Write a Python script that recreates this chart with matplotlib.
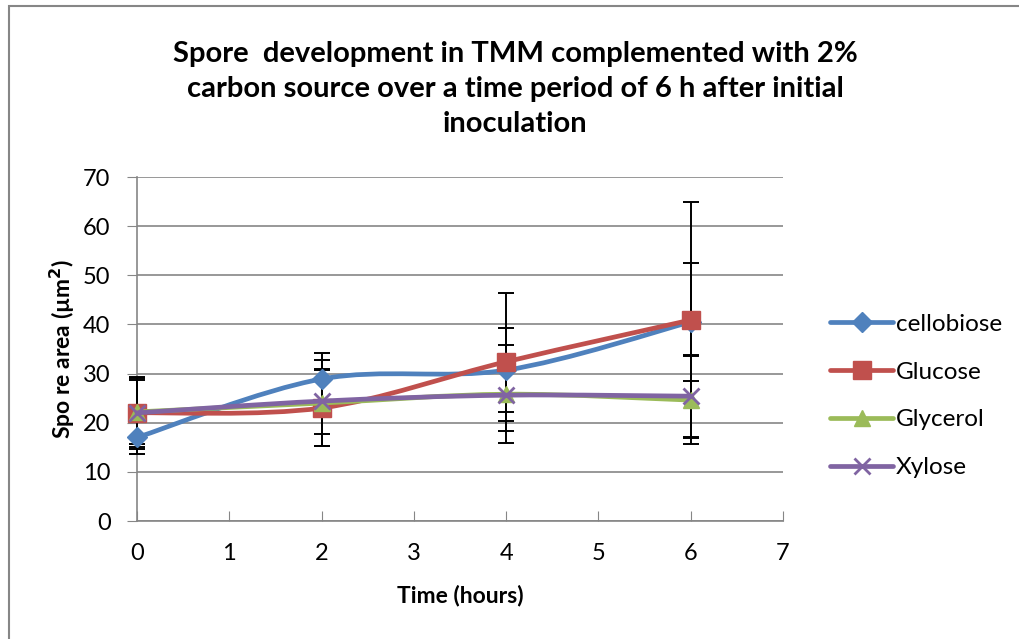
import numpy as np
import matplotlib.pyplot as plt
from matplotlib.path import Path
from matplotlib.patches import PathPatch, Rectangle
from matplotlib.lines import Line2D

plt.rcParams['font.family'] = ['Lato', 'DejaVu Sans']

# Data
time_h = [0, 2, 4, 6]
series_names = ['cellobiose', 'Glucose', 'Glycerol', 'Xylose']
cellobiose = [17.0, 28.9, 30.7, 40.5]
glucose = [22.0, 23.0, 32.4, 40.9]
glycerol = [22.2, 24.0, 25.8, 24.6]
xylose = [22.0, 24.4, 25.6, 25.4]
cellobiose_err = [3.3, 5.3, 8.5, 12.0]
glucose_err = [7.0, 7.8, 14.0, 24.0]
glycerol_err = [6.5, 8.7, 10.0, 9.0]
xylose_err = [7.3, 6.6, 5.2, 8.4]

colors = ['#4F81BD', '#C0504D', '#9BBB59', '#8064A2']
markers = ['D', 's', '^', 'x']
msizes = [10, 13, 11, 12]


def smooth_path(x, y):
    # Catmull-Rom style bezier, like Excel's smoothed line
    x = np.asarray(x, float)
    y = np.asarray(y, float)
    pts = np.column_stack([x, y])
    verts = [pts[0]]
    codes = [Path.MOVETO]
    n = len(pts)
    for i in range(n - 1):
        p0 = pts[max(i - 1, 0)]
        p1 = pts[i]
        p2 = pts[i + 1]
        p3 = pts[min(i + 2, n - 1)]
        c1 = p1 + (p2 - p0) / 6.0
        c2 = p2 - (p3 - p1) / 6.0
        verts += [c1, c2, p2]
        codes += [Path.CURVE4] * 3
    return Path(verts, codes)


def main():
    fig = plt.figure(figsize=(10.2, 6.39), dpi=100)
    ax = fig.add_axes([137 / 1020, 1 - 521 / 639, 646 / 1020, 344 / 639])

    # chart border (partly cut off in the original)
    fig.patches.append(Rectangle((9 / 1020, -0.1), 1.2, 1.1 - 6 / 639,
                                 transform=fig.transFigure, fill=False,
                                 edgecolor='#868686', lw=1.5))

    all_y = [cellobiose, glucose, glycerol, xylose]
    all_err = [cellobiose_err, glucose_err, glycerol_err, xylose_err]

    handles = []
    for k, (name, ys, err) in enumerate(zip(series_names, all_y, all_err)):
        eb = ax.errorbar(time_h, ys, yerr=err, fmt='none', ecolor='black',
                         elinewidth=1.4, capsize=6, capthick=1.4,
                         zorder=3 + k * 0.1)
        for art in eb.lines[1] + eb.lines[2]:
            art.set_clip_on(False)
        ax.add_patch(PathPatch(smooth_path(time_h, ys), fill=False,
                               edgecolor=colors[k], lw=3.4, zorder=4 + k,
                               capstyle='round', clip_on=False))
        if markers[k] == 'x':
            ax.plot(time_h, ys, ls='none', marker='x', ms=msizes[k],
                    mew=2, color=colors[k], zorder=4.5 + k, clip_on=False)
        else:
            ax.plot(time_h, ys, ls='none', marker=markers[k], ms=msizes[k],
                    mfc=colors[k], mec=colors[k], zorder=4.5 + k,
                    clip_on=False)
        h = Line2D([], [], color=colors[k], lw=3.4, marker=markers[k],
                   ms=msizes[k], mew=2 if markers[k] == 'x' else 1,
                   mfc=colors[k], mec=colors[k], solid_capstyle='round')
        handles.append(h)

    ax.set_xlim(0, 7)
    ax.set_ylim(0, 70)
    ax.set_xticks(range(0, 8))
    ax.set_yticks(range(0, 71, 10))
    ax.grid(axis='y', color='#868686', lw=1.2)
    ax.set_axisbelow(True)
    for side in ['top', 'right']:
        ax.spines[side].set_visible(False)
    for side in ['left', 'bottom']:
        ax.spines[side].set_color('#868686')
        ax.spines[side].set_linewidth(1.2)
    ax.tick_params(axis='x', direction='in', length=7, color='#868686',
                   labelsize=17, pad=16)
    ax.tick_params(axis='y', direction='out', length=7, color='#868686',
                   labelsize=17, pad=12)

    ax.set_xlabel('Time (hours)', fontsize=16.5, fontweight='bold',
                  labelpad=15)
    ax.set_ylabel('Spo re area (µm$^\\mathbf{2}$)', fontsize=16.5,
                  fontweight='bold', labelpad=4)

    fig.text(0.505, 1 - 89 / 639,
             'Spore  development in TMM complemented with 2%\n'
             'carbon source over a time period of 6 h after initial\n'
             'inoculation', ha='center', va='center', fontsize=21,
             fontweight='bold', linespacing=1.45)

    ax.legend(handles, series_names, loc='center left',
              bbox_to_anchor=(830 / 1020, 1 - 396 / 639),
              bbox_transform=fig.transFigure, frameon=False, fontsize=17.5,
              handlelength=2.6, handletextpad=0.1, labelspacing=1.1,
              borderaxespad=0, borderpad=0)

    fig.savefig('out.png', dpi=100)


if __name__ == '__main__':
    main()
